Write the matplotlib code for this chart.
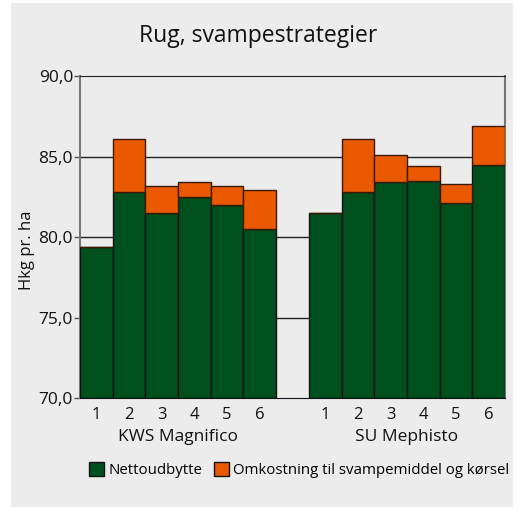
import numpy as np
import matplotlib.pyplot as plt
from matplotlib.patches import Rectangle, Patch
from matplotlib.ticker import FuncFormatter

plt.rcParams['font.family'] = ['Open Sans', 'DejaVu Sans']

# Data
strategier = ['1', '2', '3', '4', '5', '6']
sorter = ['KWS Magnifico', 'SU Mephisto']
netto_kws = [79.4, 82.8, 81.5, 82.5, 82.0, 80.5]
netto_su = [81.5, 82.8, 83.4, 83.5, 82.1, 84.5]
omkost = [0.0, 3.3, 1.7, 0.9, 1.2, 2.4]

groen = '#00501e'
orange = '#ea5800'
bg = '#ececec'

fig = plt.figure(figsize=(5.17, 5.07), dpi=100)
fig.patch.set_facecolor('white')
fig.patches.append(Rectangle((11/517, 0), 502/517, 1 - 3/507, transform=fig.transFigure,
                             facecolor=bg, edgecolor='none', zorder=-10))

ax = fig.add_axes([80/517, 108.7/507, 425/517, 322.3/507])
ax.set_facecolor(bg)

x1 = np.arange(6)
x2 = np.arange(6) + 7
for xs, netto in [(x1, netto_kws), (x2, netto_su)]:
    ax.bar(xs, np.array(netto) - 70, bottom=70, width=1.0, color=groen,
           edgecolor='#111111', linewidth=1, zorder=3)
    ax.bar(xs, omkost, bottom=netto, width=1.0, color=orange,
           edgecolor='#3a1a00', linewidth=1, zorder=3)

ax.set_xlim(-0.5, 12.5)
ax.set_ylim(70, 90)
ax.set_yticks([70, 75, 80, 85, 90])
ax.yaxis.set_major_formatter(FuncFormatter(lambda v, p: f'{v:.1f}'.replace('.', ',')))
for yv in [75, 80, 85]:
    ax.axhline(yv, color='#222222', linewidth=1, zorder=1)

ax.set_xticks(np.concatenate([x1, x2]))
ax.set_xticklabels(strategier + strategier)
ax.tick_params(axis='x', length=0, labelsize=12, pad=6, colors='#111111')
ax.tick_params(axis='y', length=4, width=1, color='#555555', labelsize=12.5, pad=1, labelcolor='#111111')

for s in ['left', 'right']:
    ax.spines[s].set_color('#777777')
    ax.spines[s].set_linewidth(1.5)
ax.spines['top'].set_color('#222222')
ax.spines['bottom'].set_color('#111111')
ax.spines['right'].set_zorder(1)

trans = ax.get_xaxis_transform()
ax.text(2.5, -0.12, sorter[0], transform=trans, ha='center', va='center', fontsize=12.5, color='#111111')
ax.text(9.5, -0.12, sorter[1], transform=trans, ha='center', va='center', fontsize=12.5, color='#111111')

ax.set_ylabel('Hkg pr. ha', fontsize=12, color='#111111')
ax.yaxis.set_label_coords(-0.107, 0.46)

fig.text(0.5, 1 - 36/507, 'Rug, svampestrategier', ha='center', va='center', fontsize=16.5, color='#111111')

handles = [Patch(facecolor=groen, edgecolor='#111111', label='Nettoudbytte'),
           Patch(facecolor=orange, edgecolor='#111111', label='Omkostning til svampemiddel og kørsel')]
fig.legend(handles=handles, loc='center', bbox_to_anchor=(299/517, 1 - 470/507), ncol=2,
           frameon=False, fontsize=10.8, handlelength=1.0, handleheight=1.0,
           handletextpad=0.3, columnspacing=0.8, borderaxespad=0)

fig.savefig('out.png', dpi=100, facecolor='white')
